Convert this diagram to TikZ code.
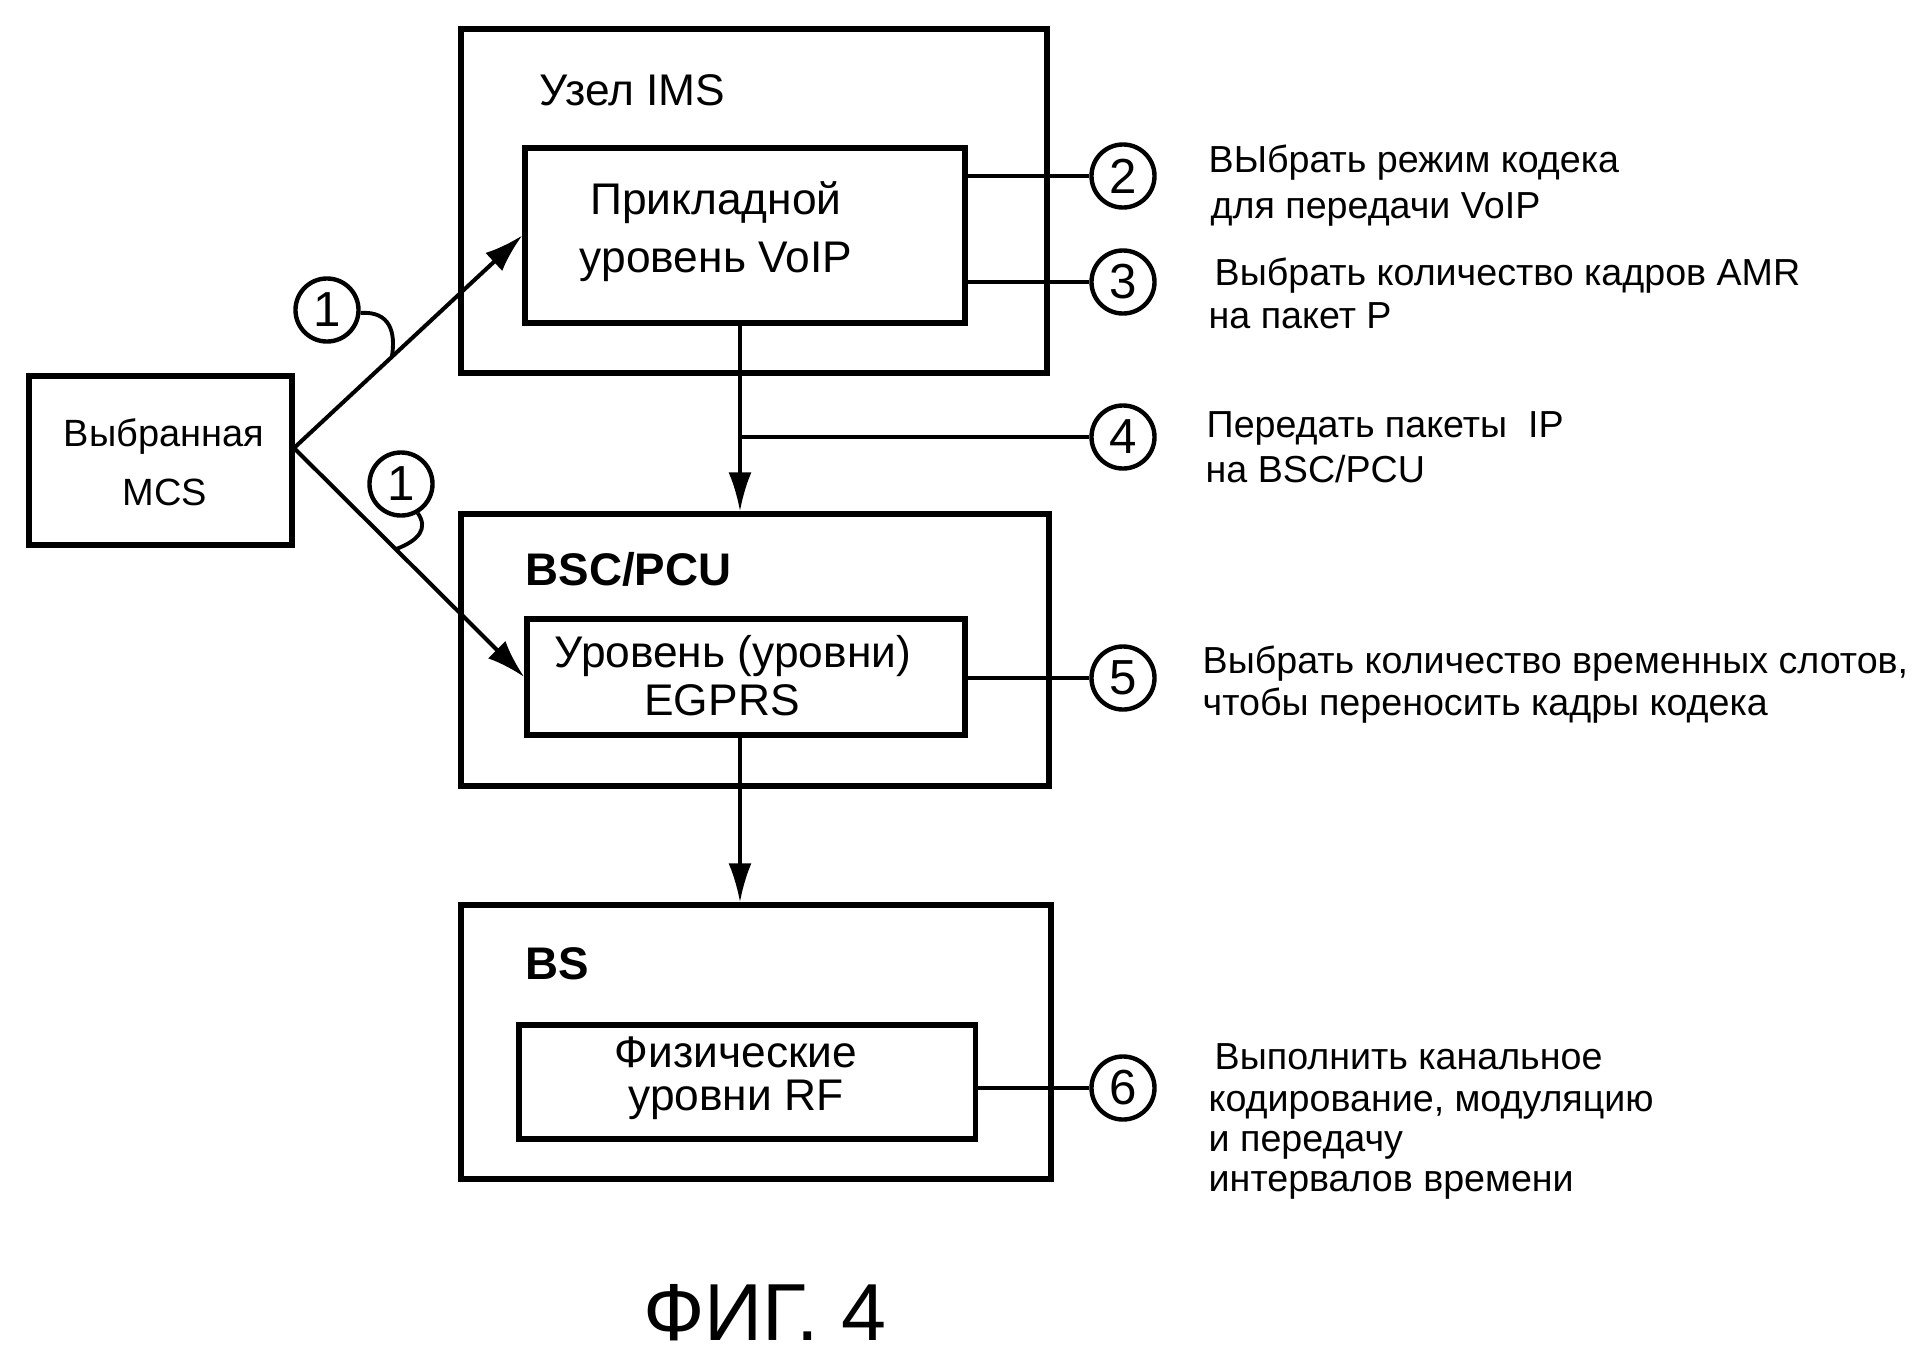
\documentclass[tikz,border=0pt]{standalone}
\usepackage{fontspec}
\setmainfont{Liberation Sans}
\usetikzlibrary{calc,arrows.meta}
\tikzset{
  outerbox/.style={draw,line width=1.6pt,rectangle,inner sep=0pt},
  innerbox/.style={draw,line width=1.5pt,rectangle,inner sep=0pt},
  boxtxt/.style={inner sep=0pt,font=\fontsize{12.6pt}{15pt}\selectfont},
  boldtxt/.style={inner sep=0pt,font=\fontsize{13pt}{15pt}\selectfont\bfseries},
  mcstxt/.style={inner sep=0pt,font=\fontsize{10.8pt}{13pt}\selectfont},
  notetxt/.style={inner sep=0pt,anchor=base west,font=\fontsize{10.7pt}{13pt}\selectfont},
  numcirc/.style={draw,circle,line width=1.25pt,minimum size=0.63cm,inner sep=0pt,font=\fontsize{14pt}{16pt}\selectfont},
  link/.style={line width=1.25pt},
  flow/.style={line width=0.9pt,-{Latex[length=11pt,width=6.5pt]}},
  diag/.style={line width=1.15pt,-{Latex[length=11pt,width=7pt]}},
  hook/.style={line width=1.1pt}
}
\begin{document}
\begin{tikzpicture}[x=0.01cm,y=-0.01cm]
\useasboundingbox (0,0) rectangle (1923,1360);
\fill[white] (0,0) rectangle (1923,1360);

% boxes
\node[outerbox,minimum width=5.86cm,minimum height=3.44cm] (ims) at (754,201) {};
\node[innerbox,minimum width=4.40cm,minimum height=1.75cm] (voip) at (745,235.5) {};
\node[outerbox,minimum width=2.63cm,minimum height=1.69cm] (mcs) at (160.5,460.5) {};
\node[outerbox,minimum width=5.88cm,minimum height=2.72cm] (bsc) at (755,650) {};
\node[innerbox,minimum width=4.38cm,minimum height=1.16cm] (egprs) at (746,677) {};
\node[outerbox,minimum width=5.90cm,minimum height=2.74cm] (bs) at (756,1042) {};
\node[innerbox,minimum width=4.56cm,minimum height=1.14cm] (rf) at (747,1082) {};

% box texts
\node[boxtxt,anchor=base west] (tims) at (539,105) {Узел IMS};
\node[boxtxt,anchor=base] (tvoip1) at (716,214) {Прикладной};
\node[boxtxt,anchor=base] (tvoip2) at (716,272) {уровень VoIP};
\node[mcstxt,anchor=base] (tmcs1) at (164,446) {Выбранная};
\node[mcstxt,anchor=base] (tmcs2) at (165,505) {MCS};
\node[boldtxt,anchor=base west] (tbsc) at (525,585) {BSC/PCU};
\node[boxtxt,anchor=base] (teg1) at (733,667) {Уровень (уровни)};
\node[boxtxt,anchor=base] (teg2) at (722,715) {EGPRS};
\node[boldtxt,anchor=base west] (tbs) at (525,979) {BS};
\node[boxtxt,anchor=base] (trf1) at (736,1067) {Физические};
\node[boxtxt,anchor=base] (trf2) at (736,1110) {уровни RF};

% circles
\node[numcirc] (c1a) at (327,310) {1};
\node[numcirc] (c1b) at (401,484) {1};
\node[numcirc] (c2) at (1123,176) {2};
\node[numcirc] (c3) at (1123,282) {3};
\node[numcirc] (c4) at (1123,437) {4};
\node[numcirc] (c5) at (1123,678) {5};
\node[numcirc] (c6) at (1123,1088) {6};

% helper coordinates
\coordinate (mcsout) at (294,448);
\coordinate (vx) at (740,0);

% arrows from MCS
\draw[diag] (mcsout) -- (voip.west);
\draw[diag] (mcsout) -- (egprs.west);
\coordinate (h1a) at ($(mcsout)!0.4286!(voip.west)$);
\coordinate (h1b) at ($(mcsout)!0.442!(egprs.west)$);
\draw[hook] (c1a.-5) .. controls (390,311) and (396,332) .. (h1a);
\draw[hook] (c1b.-60) .. controls (428,528) and (420,540) .. (h1b);

% vertical flows
\draw[flow] (voip.south -| vx) -- (bsc.north -| vx);
\draw[flow] (egprs.south -| vx) -- (bs.north -| vx);

% links to numbered circles
\draw[link] (voip.east |- c2) -- (c2);
\draw[link] (voip.east |- c3) -- (c3);
\draw[link] (vx |- c4) -- (c4);
\draw[link] (egprs.east |- c5) -- (c5);
\draw[link] (rf.east |- c6) -- (c6);

% notes
\node[notetxt] (n2a) at (1208,172) {ВЫбрать режим кодека};
\node[notetxt] (n2b) at (1210,218) {для передачи VoIP};
\node[notetxt] (n3a) at (1214,285) {Выбрать количество кадров AMR};
\node[notetxt] (n3b) at (1208,328) {на пакет P};
\node[notetxt] (n4a) at (1206,437) {Передать пакеты\ \ IP};
\node[notetxt] (n4b) at (1205,482) {на BSC/PCU};
\node[notetxt] (n5a) at (1202,673) {Выбрать количество временных слотов,};
\node[notetxt] (n5b) at (1202,715) {чтобы переносить кадры кодека};
\node[notetxt] (n6a) at (1214,1069) {Выполнить канальное};
\node[notetxt] (n6b) at (1208,1111) {кодирование, модуляцию};
\node[notetxt] (n6c) at (1208,1151) {и передачу};
\node[notetxt] (n6d) at (1208,1191) {интервалов времени};

% title
\node[inner sep=0pt,anchor=base,font=\fontsize{23pt}{27pt}\selectfont] (title) at (765,1340) {ФИГ. 4};
\end{tikzpicture}
\end{document}
